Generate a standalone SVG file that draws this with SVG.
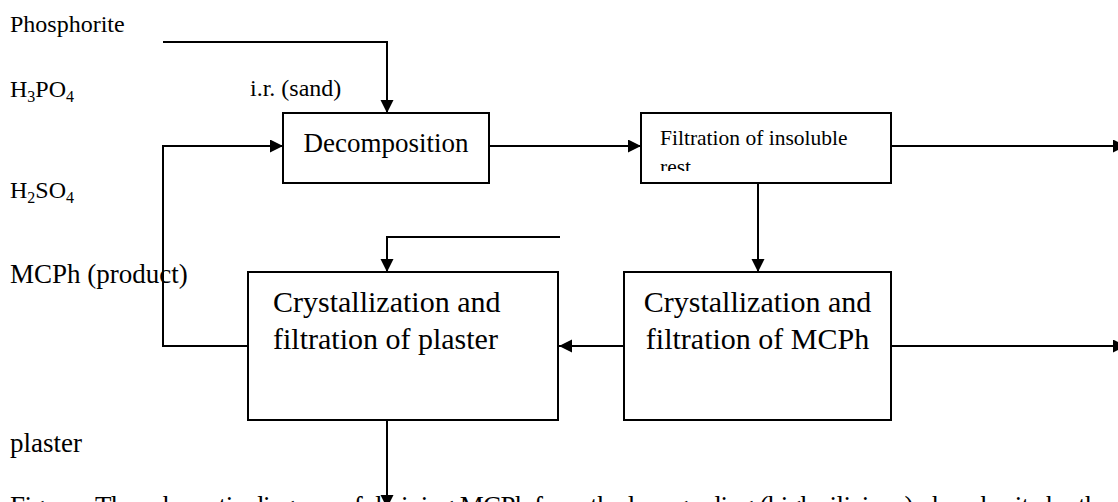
<svg xmlns="http://www.w3.org/2000/svg" width="1118" height="502" viewBox="0 0 1118 502">
  <style>
    .box { fill: #fff; stroke: #000; stroke-width: 2; }
    .wire { fill: none; stroke: #000; stroke-width: 2; marker-end: url(#arrow); }
    text { font-family: "Liberation Serif", "Times New Roman", serif; fill: #000; }
    .lbl { font-size: 24px; }
    .lbl-big { font-size: 27px; }
    .node-txt { font-size: 30px; }
    .sub { font-size: 16px; }
  </style>
  <defs>
    <marker id="arrow" markerUnits="userSpaceOnUse" markerWidth="14" markerHeight="14" refX="13" refY="6.5" orient="auto">
      <path d="M0,0 L13,6.5 L0,13 z" fill="#000"/>
    </marker>
    <clipPath id="filtration-clip">
      <rect x="642" y="114" width="248" height="57"/>
    </clipPath>
  </defs>

  <rect width="1118" height="502" fill="#fff"/>

  <!-- stream labels -->
  <g id="labels">
    <text class="lbl" x="10" y="32">Phosphorite</text>
    <text class="lbl" x="10" y="97">H<tspan class="sub" dy="5">3</tspan><tspan dy="-5">PO</tspan><tspan class="sub" dy="5">4</tspan></text>
    <text class="lbl" x="250" y="96">i.r. (sand)</text>
    <text class="lbl" x="10" y="198">H<tspan class="sub" dy="5">2</tspan><tspan dy="-5">SO</tspan><tspan class="sub" dy="5">4</tspan></text>
    <text class="lbl-big" x="10" y="283">MCPh (product)</text>
    <text class="lbl-big" x="10" y="452">plaster</text>
  </g>

  <!-- connectors -->
  <g id="connectors">
    <polyline class="wire" points="163,42 387,42 387,113"/>
    <polyline class="wire" points="248,346 163,346 163,146 283,146"/>
    <line class="wire" x1="489" y1="146" x2="641" y2="146"/>
    <line class="wire" x1="891" y1="146" x2="1126" y2="146"/>
    <line class="wire" x1="758" y1="183" x2="758" y2="272"/>
    <polyline class="wire" points="560,237 387,237 387,272"/>
    <line class="wire" x1="624" y1="346" x2="559" y2="346"/>
    <line class="wire" x1="891" y1="346" x2="1126" y2="346"/>
    <line class="wire" x1="387" y1="420" x2="387" y2="508"/>
  </g>

  <g id="decomposition">
    <rect class="box" x="283" y="113" width="206" height="70"/>
    <text class="lbl-big" x="386" y="152" text-anchor="middle">Decomposition</text>
  </g>

  <g id="filtration">
    <rect class="box" x="641" y="113" width="250" height="70"/>
    <g clip-path="url(#filtration-clip)">
      <text x="660" y="145" font-size="21.5">Filtration of insoluble</text>
      <text x="660" y="174" font-size="21.5">rest</text>
    </g>
  </g>

  <g id="plaster-crystallization">
    <rect class="box" x="248" y="272" width="310" height="148"/>
    <text class="node-txt" x="273" y="312">Crystallization and</text>
    <text class="node-txt" x="273" y="349">filtration of plaster</text>
  </g>

  <g id="mcph-crystallization">
    <rect class="box" x="624" y="272" width="267" height="148"/>
    <text class="node-txt" x="757.5" y="312" text-anchor="middle">Crystallization and</text>
    <text class="node-txt" x="757.5" y="349" text-anchor="middle">filtration of MCPh</text>
  </g>

  <!-- caption line, cut by the lower edge -->
  <text class="lbl-big" x="10" y="515" textLength="1100" lengthAdjust="spacing">Figure    . The schematic diagram of deriving MCPh from the low-grading (high silicious) phosphorite by the</text>
</svg>
